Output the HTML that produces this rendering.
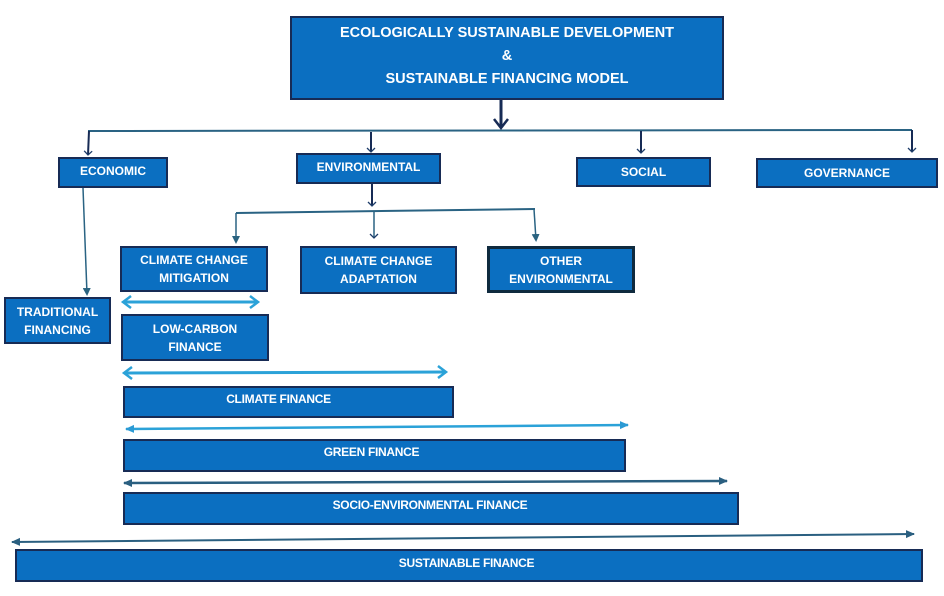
<!DOCTYPE html>
<html><head><meta charset="utf-8"><style>
body{margin:0;width:944px;height:596px;background:#fff;position:relative;overflow:hidden;font-family:"Liberation Sans",sans-serif}
.b{position:absolute;box-sizing:border-box;background:#0b6fc1;border:2px solid #172b55;color:#fff;font-weight:bold;font-size:12px;display:flex;align-items:center;justify-content:center;text-align:center;line-height:18px}
.n{font-family:"Liberation Sans Narrow","Liberation Sans",sans-serif;font-size:12px;letter-spacing:-0.3px}
svg{position:absolute;left:0;top:0}
</style></head><body>
<svg width="944" height="596">
<defs>
<marker id="a" markerWidth="10" markerHeight="10" refX="5" refY="5" orient="auto" markerUnits="userSpaceOnUse"><path d="M1,1 L5,5 L1,9" fill="none" stroke="#1e3d6a" stroke-width="1.3"/></marker>
<marker id="t" markerWidth="8" markerHeight="8" refX="6" refY="4" orient="auto" markerUnits="userSpaceOnUse"><path d="M0,0 L8,4 L0,8z" fill="#2a6380"/></marker>
<marker id="lb" markerWidth="14" markerHeight="14" refX="10" refY="7" orient="auto-start-reverse" markerUnits="userSpaceOnUse"><path d="M2,1 L10,7 L2,13" fill="none" stroke="#2ba2d8" stroke-width="2.5"/></marker>
<marker id="db" markerWidth="10" markerHeight="10" refX="8" refY="5" orient="auto-start-reverse" markerUnits="userSpaceOnUse"><path d="M0,1 L9,5 L0,9z" fill="#2a5f80"/></marker>
<marker id="bb" markerWidth="10" markerHeight="10" refX="8" refY="5" orient="auto-start-reverse" markerUnits="userSpaceOnUse"><path d="M0,1 L9,5 L0,9z" fill="#2b9ad4"/></marker>
</defs>
<g fill="none" stroke="#2a6383" stroke-width="2">
<path d="M88,131 L912,130"/>
<path d="M501,100 L501,127" stroke="#172b55" stroke-width="3"/>
<path d="M494,119 L501,128 L508,119" stroke="#172b55" stroke-width="2.5"/>
<path d="M89,131 L88,155" stroke="#172b55" marker-end="url(#a)"/>
<path d="M371,132 L371,152" stroke="#172b55" marker-end="url(#a)"/>
<path d="M641,131 L641,153" stroke="#172b55" marker-end="url(#a)"/>
<path d="M912,130 L912,152" stroke="#172b55" marker-end="url(#a)"/>
<path d="M83,188 L87,294" stroke-width="1.5" marker-end="url(#t)"/>
<path d="M372,184 L372,206" stroke="#172b55" marker-end="url(#a)"/>
<path d="M236,213 L535,209"/>
<path d="M236,213 L236,242" stroke-width="1.5" marker-end="url(#t)"/>
<path d="M374,212 L374,238" stroke-width="1.5" marker-end="url(#a)"/>
<path d="M534,209 L536,240" stroke-width="1.5" marker-end="url(#t)"/>
<path d="M123,302 L258,302" stroke="#2ba2d8" stroke-width="3" marker-start="url(#lb)" marker-end="url(#lb)"/>
<path d="M124,373 L446,372" stroke="#2ba2d8" stroke-width="3" marker-start="url(#lb)" marker-end="url(#lb)"/>
<path d="M126,429 L628,425" stroke="#2ba2d8" stroke-width="2.5" marker-start="url(#bb)" marker-end="url(#bb)"/>
<path d="M124,483 L727,481" stroke="#2a5f80" stroke-width="2.5" marker-start="url(#db)" marker-end="url(#db)"/>
<path d="M12,542 L914,534" stroke="#2a5f80" stroke-width="2" marker-start="url(#db)" marker-end="url(#db)"/>
</g>
</svg>
<div class="b" style="left:290px;top:16px;width:434px;height:84px;font-size:14.5px;line-height:23px;padding-bottom:3px">ECOLOGICALLY SUSTAINABLE DEVELOPMENT<br>&amp;<br>SUSTAINABLE FINANCING MODEL</div>
<div class="b" style="left:58px;top:157px;width:110px;height:31px;align-items:flex-start;padding-top:3px">ECONOMIC</div>
<div class="b" style="left:296px;top:153px;width:145px;height:31px;align-items:flex-start;padding-top:3px">ENVIRONMENTAL</div>
<div class="b" style="left:576px;top:157px;width:135px;height:30px">SOCIAL</div>
<div class="b" style="left:756px;top:158px;width:182px;height:30px">GOVERNANCE</div>
<div class="b" style="left:120px;top:246px;width:148px;height:46px">CLIMATE CHANGE<br>MITIGATION</div>
<div class="b" style="left:300px;top:246px;width:157px;height:48px">CLIMATE CHANGE<br>ADAPTATION</div>
<div class="b" style="left:487px;top:246px;width:148px;height:47px;border-color:#0f2a3e;border-width:3px">OTHER<br>ENVIRONMENTAL</div>
<div class="b" style="left:4px;top:297px;width:107px;height:47px">TRADITIONAL<br>FINANCING</div>
<div class="b" style="left:121px;top:314px;width:148px;height:47px">LOW-CARBON<br>FINANCE</div>
<div class="b n" style="left:123px;top:386px;width:331px;height:32px;align-items:flex-start;padding-top:2px;padding-right:20px">CLIMATE FINANCE</div>
<div class="b n" style="left:123px;top:439px;width:503px;height:33px;align-items:flex-start;padding-top:2px;padding-right:6px">GREEN FINANCE</div>
<div class="b n" style="left:123px;top:492px;width:616px;height:33px;align-items:flex-start;padding-top:2px;padding-right:2px">SOCIO-ENVIRONMENTAL FINANCE</div>
<div class="b n" style="left:15px;top:549px;width:908px;height:33px;align-items:flex-start;padding-top:3px;padding-right:5px">SUSTAINABLE FINANCE</div>
</body></html>
